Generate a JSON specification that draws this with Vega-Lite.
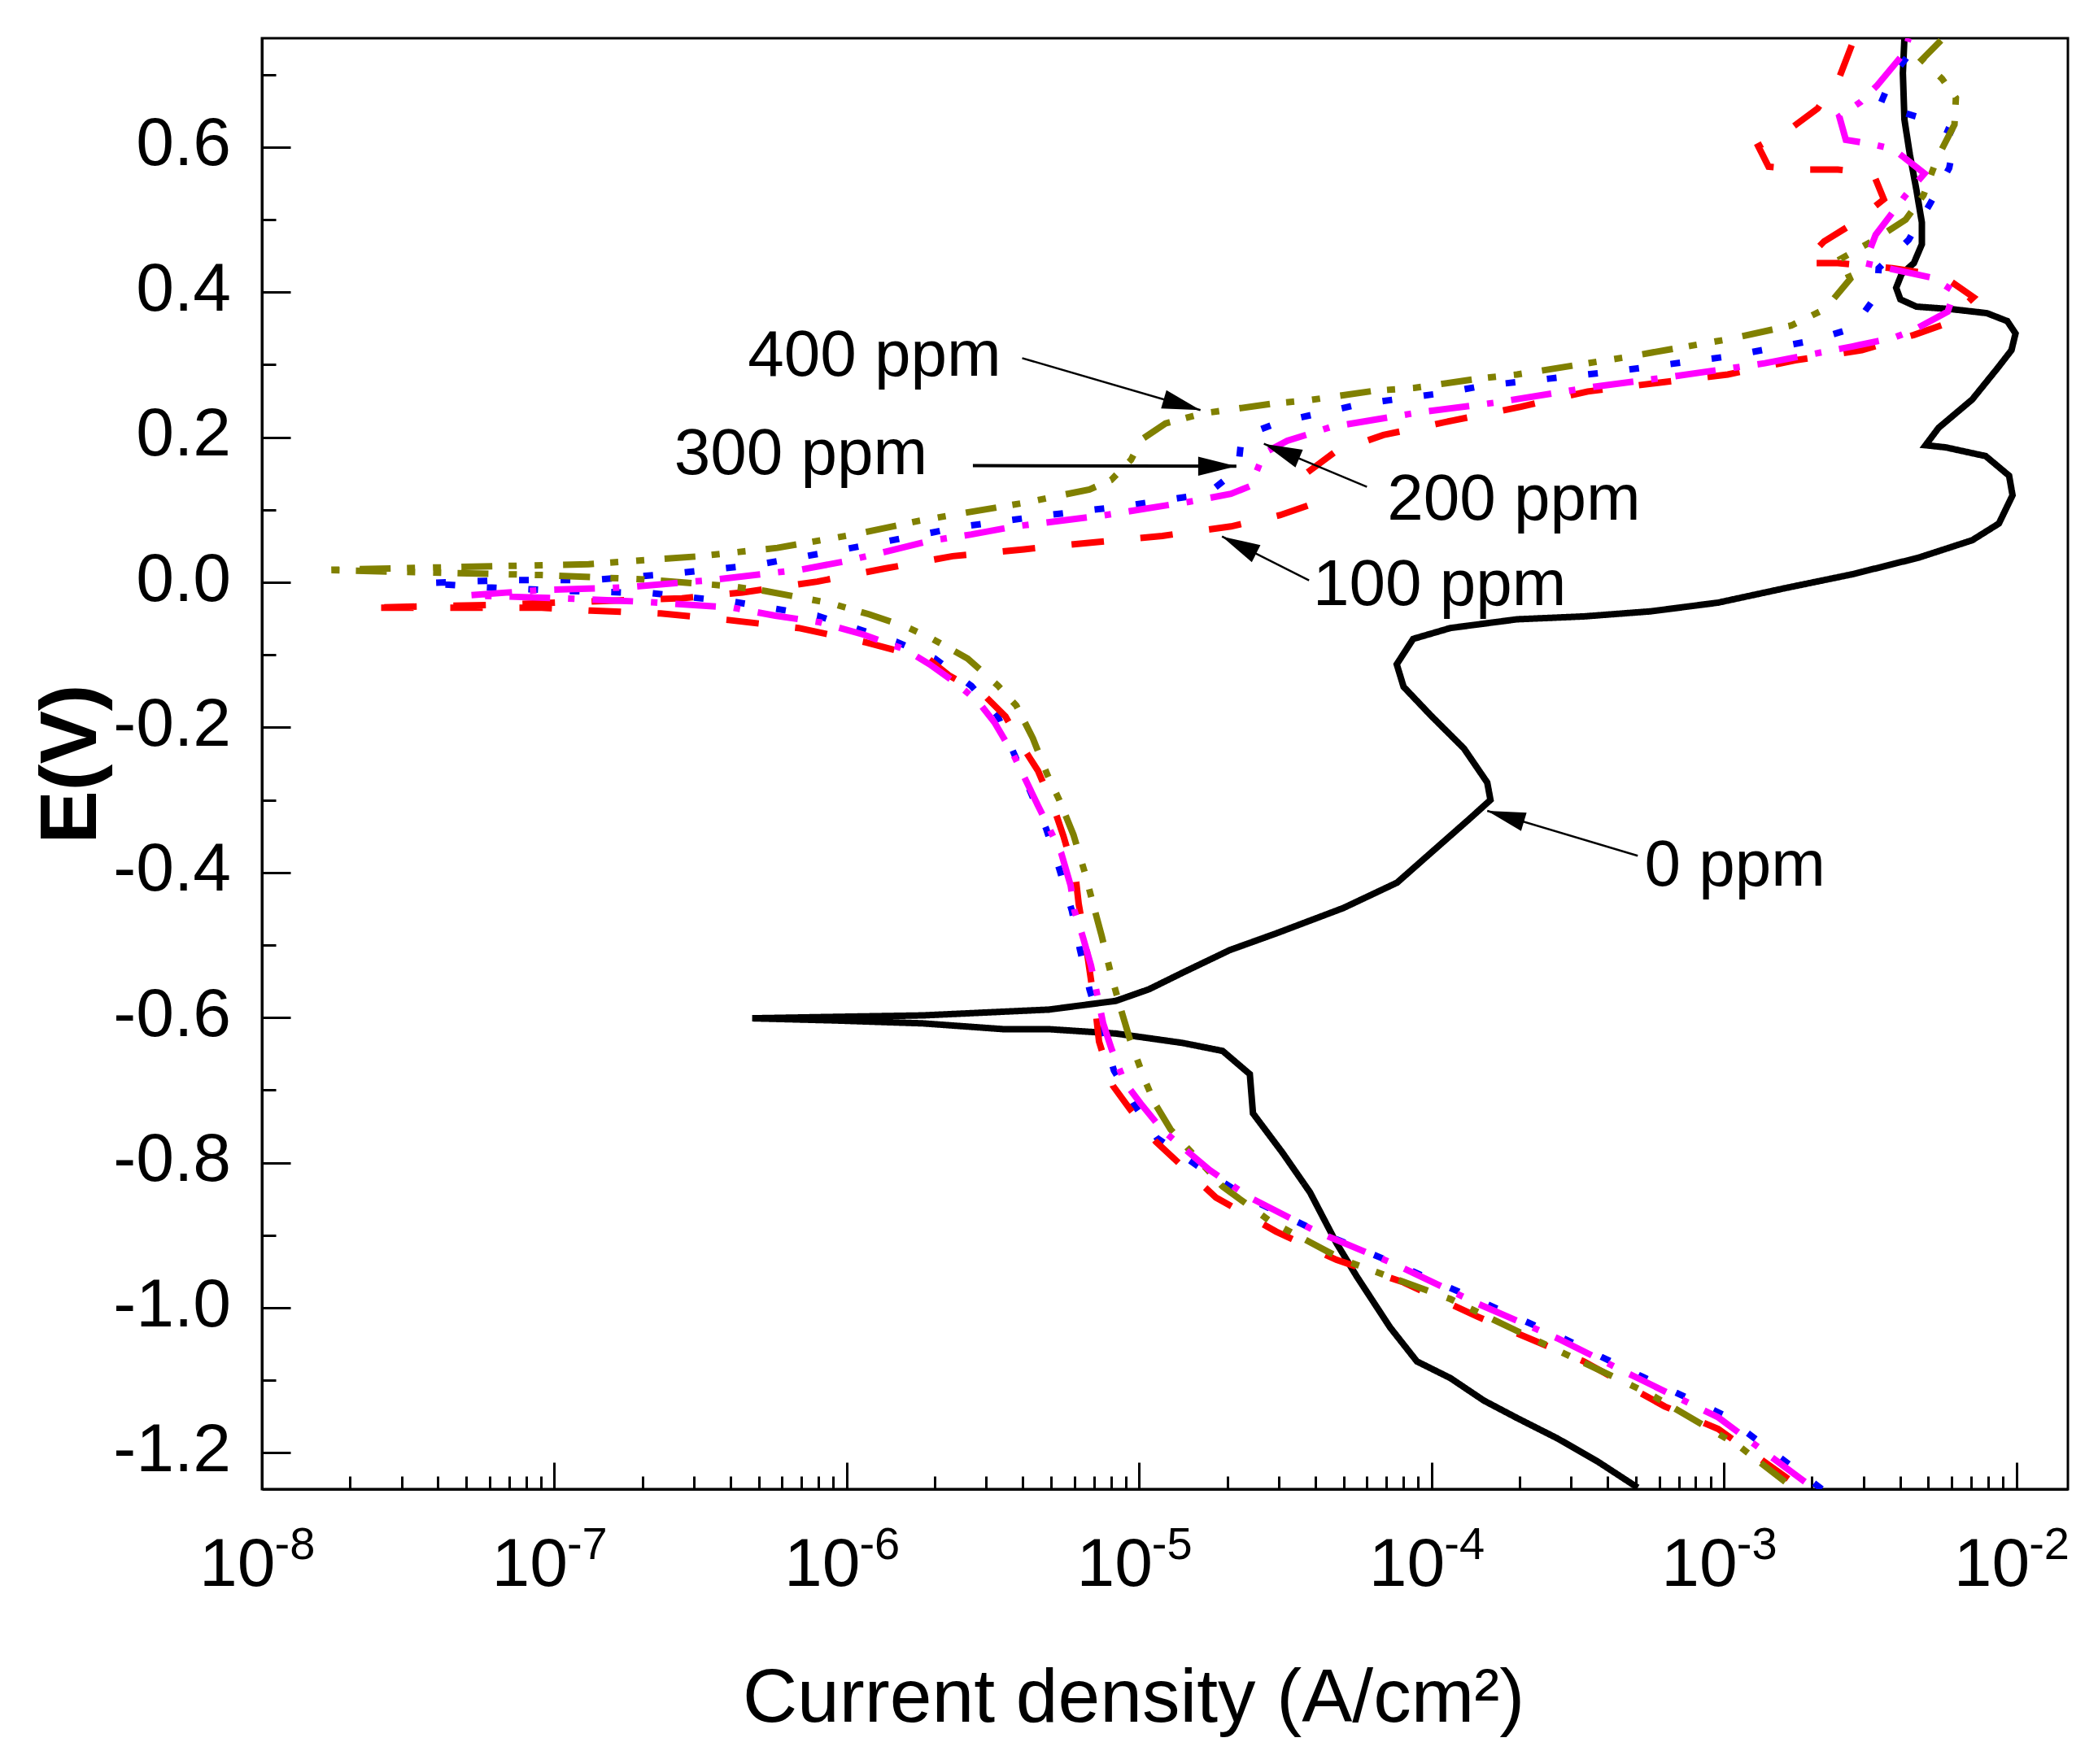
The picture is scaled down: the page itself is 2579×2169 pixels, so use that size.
{
  "$schema": "https://vega.github.io/schema/vega-lite/v6.json",
  "width": 2220,
  "height": 1784,
  "autosize": {"type": "none"},
  "padding": {"left": 322, "top": 47, "right": 37, "bottom": 338},
  "background": "white",
  "config": {
    "font": "Liberation Sans",
    "view": {"stroke": "#000000", "strokeWidth": 3},
    "axis": {
      "grid": false,
      "domainColor": "#000000",
      "domainWidth": 3,
      "tickColor": "#000000",
      "tickWidth": 3,
      "labelColor": "#000000",
      "titleColor": "#000000",
      "labelFont": "Liberation Sans",
      "titleFont": "Liberation Sans",
      "labelFlush": false,
      "labelOverlap": false,
      "labelBound": false
    }
  },
  "datasets": {
    "curves": [
      {"s":"0 ppm","k":1,"i":5.07e-4,"E":-1.248},{"s":"0 ppm","k":2,"i":3.70e-4,"E":-1.212},{"s":"0 ppm","k":3,"i":2.69e-4,"E":-1.18},{"s":"0 ppm","k":4,"i":1.96e-4,"E":-1.152},{"s":"0 ppm","k":5,"i":1.51e-4,"E":-1.128},{"s":"0 ppm","k":6,"i":1.16e-4,"E":-1.097},{"s":"0 ppm","k":7,"i":8.91e-5,"E":-1.074},{"s":"0 ppm","k":8,"i":7.21e-5,"E":-1.027},{"s":"0 ppm","k":9,"i":5.55e-5,"E":-0.957},{"s":"0 ppm","k":10,"i":4.73e-5,"E":-0.911},
      {"s":"0 ppm","k":11,"i":3.84e-5,"E":-0.841},{"s":"0 ppm","k":12,"i":3.10e-5,"E":-0.787},{"s":"0 ppm","k":13,"i":2.45e-5,"E":-0.732},{"s":"0 ppm","k":14,"i":2.39e-5,"E":-0.678},{"s":"0 ppm","k":15,"i":1.93e-5,"E":-0.646},{"s":"0 ppm","k":16,"i":1.41e-5,"E":-0.635},{"s":"0 ppm","k":17,"i":8.32e-6,"E":-0.622},{"s":"0 ppm","k":18,"i":4.91e-6,"E":-0.616},{"s":"0 ppm","k":19,"i":3.44e-6,"E":-0.616},{"s":"0 ppm","k":20,"i":1.82e-6,"E":-0.608},
      {"s":"0 ppm","k":21,"i":9.18e-7,"E":-0.604},{"s":"0 ppm","k":22,"i":4.75e-7,"E":-0.601},{"s":"0 ppm","k":23,"i":9.18e-7,"E":-0.599},{"s":"0 ppm","k":24,"i":1.82e-6,"E":-0.597},{"s":"0 ppm","k":25,"i":4.91e-6,"E":-0.589},{"s":"0 ppm","k":26,"i":8.32e-6,"E":-0.577},{"s":"0 ppm","k":27,"i":1.08e-5,"E":-0.561},{"s":"0 ppm","k":28,"i":1.41e-5,"E":-0.538},{"s":"0 ppm","k":29,"i":2.04e-5,"E":-0.507},{"s":"0 ppm","k":30,"i":2.94e-5,"E":-0.484},
      {"s":"0 ppm","k":31,"i":4.99e-5,"E":-0.449},{"s":"0 ppm","k":32,"i":7.62e-5,"E":-0.414},{"s":"0 ppm","k":33,"i":1.02e-4,"E":-0.369},{"s":"0 ppm","k":34,"i":1.34e-4,"E":-0.327},{"s":"0 ppm","k":35,"i":1.59e-4,"E":-0.300},{"s":"0 ppm","k":36,"i":1.55e-4,"E":-0.276},{"s":"0 ppm","k":37,"i":1.29e-4,"E":-0.229},{"s":"0 ppm","k":38,"i":9.91e-5,"E":-0.183},{"s":"0 ppm","k":39,"i":8.02e-5,"E":-0.144},{"s":"0 ppm","k":40,"i":7.60e-5,"E":-0.113},
      {"s":"0 ppm","k":41,"i":8.65e-5,"E":-0.078},{"s":"0 ppm","k":42,"i":1.16e-4,"E":-0.063},{"s":"0 ppm","k":43,"i":1.96e-4,"E":-0.051},{"s":"0 ppm","k":44,"i":3.32e-4,"E":-0.047},{"s":"0 ppm","k":45,"i":5.62e-4,"E":-0.040},{"s":"0 ppm","k":46,"i":9.55e-4,"E":-0.028},{"s":"0 ppm","k":47,"i":1.62e-3,"E":-0.008},{"s":"0 ppm","k":48,"i":2.74e-3,"E":0.011},{"s":"0 ppm","k":49,"i":4.63e-3,"E":0.034},{"s":"0 ppm","k":50,"i":7.06e-3,"E":0.058},
      {"s":"0 ppm","k":51,"i":8.71e-3,"E":0.081},{"s":"0 ppm","k":52,"i":9.70e-3,"E":0.120},{"s":"0 ppm","k":53,"i":9.44e-3,"E":0.147},{"s":"0 ppm","k":54,"i":7.85e-3,"E":0.174},{"s":"0 ppm","k":55,"i":5.73e-3,"E":0.186},{"s":"0 ppm","k":56,"i":4.89e-3,"E":0.189},{"s":"0 ppm","k":57,"i":5.42e-3,"E":0.213},{"s":"0 ppm","k":58,"i":7.06e-3,"E":0.252},{"s":"0 ppm","k":59,"i":8.65e-3,"E":0.296},{"s":"0 ppm","k":60,"i":9.62e-3,"E":0.320},
      {"s":"0 ppm","k":61,"i":9.93e-3,"E":0.343},{"s":"0 ppm","k":62,"i":9.31e-3,"E":0.360},{"s":"0 ppm","k":63,"i":7.93e-3,"E":0.371},{"s":"0 ppm","k":64,"i":6.01e-3,"E":0.3765},{"s":"0 ppm","k":65,"i":4.55e-3,"E":0.380},{"s":"0 ppm","k":66,"i":4.01e-3,"E":0.390},{"s":"0 ppm","k":67,"i":3.88e-3,"E":0.406},{"s":"0 ppm","k":68,"i":4.05e-3,"E":0.425},{"s":"0 ppm","k":69,"i":4.46e-3,"E":0.440},{"s":"0 ppm","k":70,"i":4.75e-3,"E":0.466},
      {"s":"0 ppm","k":71,"i":4.75e-3,"E":0.496},{"s":"0 ppm","k":72,"i":4.55e-3,"E":0.541},{"s":"0 ppm","k":73,"i":4.32e-3,"E":0.590},{"s":"0 ppm","k":74,"i":4.14e-3,"E":0.638},{"s":"0 ppm","k":75,"i":4.09e-3,"E":0.702},{"s":"0 ppm","k":76,"i":4.14e-3,"E":0.75},

      {"s":"300 ppm","k":1,"i":2.16e-3,"E":-1.25},{"s":"300 ppm","k":2,"i":1.00e-3,"E":-1.148},{"s":"300 ppm","k":3,"i":5.25e-4,"E":-1.095},{"s":"300 ppm","k":4,"i":2.75e-4,"E":-1.04},{"s":"300 ppm","k":5,"i":1.45e-4,"E":-0.99},{"s":"300 ppm","k":6,"i":7.59e-5,"E":-0.94},{"s":"300 ppm","k":7,"i":3.98e-5,"E":-0.893},{"s":"300 ppm","k":8,"i":2.34e-5,"E":-0.848},{"s":"300 ppm","k":9,"i":1.66e-5,"E":-0.81},{"s":"300 ppm","k":10,"i":1.15e-5,"E":-0.766},
      {"s":"300 ppm","k":11,"i":9.64e-6,"E":-0.721},{"s":"300 ppm","k":12,"i":8.20e-6,"E":-0.673},{"s":"300 ppm","k":13,"i":7.45e-6,"E":-0.618},{"s":"300 ppm","k":14,"i":6.76e-6,"E":-0.561},{"s":"300 ppm","k":15,"i":6.27e-6,"E":-0.506},{"s":"300 ppm","k":16,"i":5.89e-6,"E":-0.453},{"s":"300 ppm","k":17,"i":5.33e-6,"E":-0.395},{"s":"300 ppm","k":18,"i":4.81e-6,"E":-0.340},{"s":"300 ppm","k":19,"i":4.24e-6,"E":-0.288},{"s":"300 ppm","k":20,"i":3.75e-6,"E":-0.238},
      {"s":"300 ppm","k":21,"i":3.27e-6,"E":-0.183},{"s":"300 ppm","k":22,"i":2.67e-6,"E":-0.143},{"s":"300 ppm","k":23,"i":2.00e-6,"E":-0.105},{"s":"300 ppm","k":24,"i":1.48e-6,"E":-0.082},{"s":"300 ppm","k":25,"i":7.93e-7,"E":-0.046},{"s":"300 ppm","k":26,"i":4.12e-7,"E":-0.027},{"s":"300 ppm","k":27,"i":2.15e-7,"E":-0.015},{"s":"300 ppm","k":28,"i":1.11e-7,"E":-0.012},{"s":"300 ppm","k":29,"i":5.82e-8,"E":-0.007},{"s":"300 ppm","k":30,"i":3.61e-8,"E":-0.001},
      {"s":"300 ppm","k":31,"i":6.87e-8,"E":0.003},{"s":"300 ppm","k":32,"i":1.33e-7,"E":0.003},{"s":"300 ppm","k":33,"i":2.54e-7,"E":0.012},{"s":"300 ppm","k":34,"i":4.91e-7,"E":0.024},{"s":"300 ppm","k":35,"i":9.35e-7,"E":0.044},{"s":"300 ppm","k":36,"i":1.77e-6,"E":0.065},{"s":"300 ppm","k":37,"i":2.46e-6,"E":0.0766},{"s":"300 ppm","k":38,"i":4.73e-6,"E":0.092},{"s":"300 ppm","k":39,"i":8.85e-6,"E":0.105},{"s":"300 ppm","k":40,"i":1.71e-5,"E":0.122},
      {"s":"300 ppm","k":41,"i":2.18e-5,"E":0.156},{"s":"300 ppm","k":42,"i":2.24e-5,"E":0.201},{"s":"300 ppm","k":43,"i":3.03e-5,"E":0.221},{"s":"300 ppm","k":44,"i":5.77e-5,"E":0.246},{"s":"300 ppm","k":45,"i":1.10e-4,"E":0.261},{"s":"300 ppm","k":46,"i":1.51e-4,"E":0.271},{"s":"300 ppm","k":47,"i":4.10e-4,"E":0.290},{"s":"300 ppm","k":48,"i":1.06e-3,"E":0.312},{"s":"300 ppm","k":49,"i":2.02e-3,"E":0.3335},{"s":"300 ppm","k":50,"i":2.75e-3,"E":0.350},
      {"s":"300 ppm","k":51,"i":3.34e-3,"E":0.397},{"s":"300 ppm","k":52,"i":3.38e-3,"E":0.433},{"s":"300 ppm","k":53,"i":4.28e-3,"E":0.472},{"s":"300 ppm","k":54,"i":5.07e-3,"E":0.522},{"s":"300 ppm","k":55,"i":5.89e-3,"E":0.571},{"s":"300 ppm","k":56,"i":6.21e-3,"E":0.618},{"s":"300 ppm","k":57,"i":4.55e-3,"E":0.642},{"s":"300 ppm","k":58,"i":3.41e-3,"E":0.657},{"s":"300 ppm","k":59,"i":3.76e-3,"E":0.698},{"s":"300 ppm","k":60,"i":4.65e-3,"E":0.745},

      {"s":"100 ppm","k":1,"i":1.66e-3,"E":-1.236},{"s":"100 ppm","k":2,"i":9.55e-4,"E":-1.167},{"s":"100 ppm","k":3,"i":6.27e-4,"E":-1.136},{"s":"100 ppm","k":4,"i":3.32e-4,"E":-1.074},{"s":"100 ppm","k":5,"i":1.43e-4,"E":-1.012},{"s":"100 ppm","k":6,"i":8.02e-5,"E":-0.965},{"s":"100 ppm","k":7,"i":4.73e-5,"E":-0.934},{"s":"100 ppm","k":8,"i":2.94e-5,"E":-0.895},{"s":"100 ppm","k":9,"i":1.83e-5,"E":-0.848},{"s":"100 ppm","k":10,"i":1.14e-5,"E":-0.771},
      {"s":"100 ppm","k":11,"i":9.25e-6,"E":-0.725},{"s":"100 ppm","k":12,"i":8.13e-6,"E":-0.694},{"s":"100 ppm","k":13,"i":7.29e-6,"E":-0.633},{"s":"100 ppm","k":14,"i":7.13e-6,"E":-0.598},{"s":"100 ppm","k":15,"i":6.62e-6,"E":-0.508},{"s":"100 ppm","k":16,"i":6.21e-6,"E":-0.443},{"s":"100 ppm","k":17,"i":6.07e-6,"E":-0.408},{"s":"100 ppm","k":18,"i":5.51e-6,"E":-0.350},{"s":"100 ppm","k":19,"i":5.13e-6,"E":-0.313},{"s":"100 ppm","k":20,"i":4.51e-6,"E":-0.260},
      {"s":"100 ppm","k":21,"i":3.97e-6,"E":-0.225},{"s":"100 ppm","k":22,"i":3.49e-6,"E":-0.185},{"s":"100 ppm","k":23,"i":2.94e-6,"E":-0.155},{"s":"100 ppm","k":24,"i":2.23e-6,"E":-0.128},{"s":"100 ppm","k":25,"i":1.91e-6,"E":-0.106},{"s":"100 ppm","k":26,"i":1.17e-6,"E":-0.083},{"s":"100 ppm","k":27,"i":6.84e-7,"E":-0.063},{"s":"100 ppm","k":28,"i":3.94e-7,"E":-0.052},{"s":"100 ppm","k":29,"i":2.31e-7,"E":-0.043},{"s":"100 ppm","k":30,"i":1.33e-7,"E":-0.039},
      {"s":"100 ppm","k":31,"i":9.06e-8,"E":-0.035},{"s":"100 ppm","k":32,"i":2.24e-8,"E":-0.035},{"s":"100 ppm","k":33,"i":6.27e-8,"E":-0.031},{"s":"100 ppm","k":34,"i":1.54e-7,"E":-0.0255},{"s":"100 ppm","k":35,"i":2.73e-7,"E":-0.022},{"s":"100 ppm","k":36,"i":4.40e-7,"E":-0.014},{"s":"100 ppm","k":37,"i":7.93e-7,"E":0.001},{"s":"100 ppm","k":38,"i":1.35e-6,"E":0.019},{"s":"100 ppm","k":39,"i":2.30e-6,"E":0.036},{"s":"100 ppm","k":40,"i":4.04e-6,"E":0.0455},
      {"s":"100 ppm","k":41,"i":6.95e-6,"E":0.055},{"s":"100 ppm","k":42,"i":1.20e-5,"E":0.064},{"s":"100 ppm","k":43,"i":2.06e-5,"E":0.077},{"s":"100 ppm","k":44,"i":3.03e-5,"E":0.0925},{"s":"100 ppm","k":45,"i":3.85e-5,"E":0.107},{"s":"100 ppm","k":46,"i":3.72e-5,"E":0.150},{"s":"100 ppm","k":47,"i":4.68e-5,"E":0.18},{"s":"100 ppm","k":48,"i":6.84e-5,"E":0.203},{"s":"100 ppm","k":49,"i":1.18e-4,"E":0.223},{"s":"100 ppm","k":50,"i":2.02e-4,"E":0.242},
      {"s":"100 ppm","k":51,"i":3.42e-4,"E":0.263},{"s":"100 ppm","k":52,"i":5.94e-4,"E":0.275},{"s":"100 ppm","k":53,"i":1.03e-3,"E":0.2865},{"s":"100 ppm","k":54,"i":1.75e-3,"E":0.306},{"s":"100 ppm","k":55,"i":2.96e-3,"E":0.320},{"s":"100 ppm","k":56,"i":4.46e-3,"E":0.341},{"s":"100 ppm","k":57,"i":5.70e-3,"E":0.356},{"s":"100 ppm","k":58,"i":7.13e-3,"E":0.393},{"s":"100 ppm","k":59,"i":5.57e-3,"E":0.423},{"s":"100 ppm","k":60,"i":3.76e-3,"E":0.433},
      {"s":"100 ppm","k":61,"i":2.45e-3,"E":0.440},{"s":"100 ppm","k":62,"i":1.87e-3,"E":0.440},{"s":"100 ppm","k":63,"i":2.20e-3,"E":0.470},{"s":"100 ppm","k":64,"i":2.75e-3,"E":0.494},{"s":"100 ppm","k":65,"i":3.52e-3,"E":0.528},{"s":"100 ppm","k":66,"i":3.24e-3,"E":0.5635},{"s":"100 ppm","k":67,"i":2.45e-3,"E":0.569},{"s":"100 ppm","k":68,"i":1.87e-3,"E":0.569},{"s":"100 ppm","k":69,"i":1.42e-3,"E":0.573},{"s":"100 ppm","k":70,"i":1.31e-3,"E":0.601},
      {"s":"100 ppm","k":71,"i":1.71e-3,"E":0.627},{"s":"100 ppm","k":72,"i":2.09e-3,"E":0.653},{"s":"100 ppm","k":73,"i":2.48e-3,"E":0.696},{"s":"100 ppm","k":74,"i":2.75e-3,"E":0.743},

      {"s":"400 ppm","k":1,"i":1.62e-3,"E":-1.24},{"s":"400 ppm","k":2,"i":1.12e-3,"E":-1.19},{"s":"400 ppm","k":3,"i":5.64e-4,"E":-1.12},{"s":"400 ppm","k":4,"i":2.43e-4,"E":-1.05},{"s":"400 ppm","k":5,"i":1.16e-4,"E":-0.988},{"s":"400 ppm","k":6,"i":4.99e-5,"E":-0.934},{"s":"400 ppm","k":7,"i":2.79e-5,"E":-0.880},{"s":"400 ppm","k":8,"i":1.93e-5,"E":-0.833},{"s":"400 ppm","k":9,"i":1.28e-5,"E":-0.754},{"s":"400 ppm","k":10,"i":1.13e-5,"E":-0.718},
      {"s":"400 ppm","k":11,"i":1.04e-5,"E":-0.684},{"s":"400 ppm","k":12,"i":9.31e-6,"E":-0.631},{"s":"400 ppm","k":13,"i":8.55e-6,"E":-0.581},{"s":"400 ppm","k":14,"i":8.04e-6,"E":-0.543},{"s":"400 ppm","k":15,"i":7.45e-6,"E":-0.488},{"s":"400 ppm","k":16,"i":6.90e-6,"E":-0.438},{"s":"400 ppm","k":17,"i":6.55e-6,"E":-0.403},{"s":"400 ppm","k":18,"i":5.96e-6,"E":-0.348},{"s":"400 ppm","k":19,"i":5.33e-6,"E":-0.300},{"s":"400 ppm","k":20,"i":4.85e-6,"E":-0.265},
      {"s":"400 ppm","k":21,"i":4.33e-6,"E":-0.215},{"s":"400 ppm","k":22,"i":3.80e-6,"E":-0.170},{"s":"400 ppm","k":23,"i":3.30e-6,"E":-0.143},{"s":"400 ppm","k":24,"i":2.59e-6,"E":-0.105},{"s":"400 ppm","k":25,"i":1.96e-6,"E":-0.078},{"s":"400 ppm","k":26,"i":1.59e-6,"E":-0.061},{"s":"400 ppm","k":27,"i":1.19e-6,"E":-0.044},{"s":"400 ppm","k":28,"i":8.83e-7,"E":-0.029},{"s":"400 ppm","k":29,"i":5.28e-7,"E":-0.012},{"s":"400 ppm","k":30,"i":3.94e-7,"E":-0.005},
      {"s":"400 ppm","k":31,"i":2.03e-7,"E":0.004},{"s":"400 ppm","k":32,"i":9.06e-8,"E":0.010},{"s":"400 ppm","k":33,"i":1.61e-8,"E":0.017},{"s":"400 ppm","k":34,"i":1.31e-7,"E":0.025},{"s":"400 ppm","k":35,"i":3.05e-7,"E":0.0355},{"s":"400 ppm","k":36,"i":5.79e-7,"E":0.0475},{"s":"400 ppm","k":37,"i":1.06e-6,"E":0.066},{"s":"400 ppm","k":38,"i":1.78e-6,"E":0.085},{"s":"400 ppm","k":39,"i":2.38e-6,"E":0.094},{"s":"400 ppm","k":40,"i":3.98e-6,"E":0.109},
      {"s":"400 ppm","k":41,"i":6.76e-6,"E":0.128},{"s":"400 ppm","k":42,"i":8.02e-6,"E":0.141},{"s":"400 ppm","k":43,"i":9.38e-6,"E":0.169},{"s":"400 ppm","k":44,"i":1.02e-5,"E":0.197},{"s":"400 ppm","k":45,"i":1.23e-5,"E":0.219},{"s":"400 ppm","k":46,"i":1.66e-5,"E":0.233},{"s":"400 ppm","k":47,"i":2.82e-5,"E":0.246},{"s":"400 ppm","k":48,"i":3.81e-5,"E":0.251},{"s":"400 ppm","k":49,"i":6.37e-5,"E":0.264},{"s":"400 ppm","k":50,"i":8.71e-5,"E":0.268},
      {"s":"400 ppm","k":51,"i":1.46e-4,"E":0.281},{"s":"400 ppm","k":52,"i":1.96e-4,"E":0.2865},{"s":"400 ppm","k":53,"i":4.56e-4,"E":0.310},{"s":"400 ppm","k":54,"i":1.03e-3,"E":0.335},{"s":"400 ppm","k":55,"i":1.70e-3,"E":0.354},{"s":"400 ppm","k":56,"i":2.22e-3,"E":0.377},{"s":"400 ppm","k":57,"i":2.70e-3,"E":0.418},{"s":"400 ppm","k":58,"i":2.51e-3,"E":0.446},{"s":"400 ppm","k":59,"i":3.27e-3,"E":0.472},{"s":"400 ppm","k":60,"i":4.18e-3,"E":0.500},
      {"s":"400 ppm","k":61,"i":4.81e-3,"E":0.5335},{"s":"400 ppm","k":62,"i":5.35e-3,"E":0.584},{"s":"400 ppm","k":63,"i":6.14e-3,"E":0.631},{"s":"400 ppm","k":64,"i":6.21e-3,"E":0.668},{"s":"400 ppm","k":65,"i":5.57e-3,"E":0.694},{"s":"400 ppm","k":66,"i":4.75e-3,"E":0.7205},{"s":"400 ppm","k":67,"i":5.52e-3,"E":0.747},

      {"s":"200 ppm","k":1,"i":1.89e-3,"E":-1.24},{"s":"200 ppm","k":2,"i":9.55e-4,"E":-1.151},{"s":"200 ppm","k":3,"i":5.07e-4,"E":-1.097},{"s":"200 ppm","k":4,"i":2.69e-4,"E":-1.042},{"s":"200 ppm","k":5,"i":1.43e-4,"E":-0.994},{"s":"200 ppm","k":6,"i":7.60e-5,"E":-0.941},{"s":"200 ppm","k":7,"i":4.04e-5,"E":-0.895},{"s":"200 ppm","k":8,"i":2.39e-5,"E":-0.848},{"s":"200 ppm","k":9,"i":1.74e-5,"E":-0.810},{"s":"200 ppm","k":10,"i":1.20e-5,"E":-0.755},
      {"s":"200 ppm","k":11,"i":1.01e-5,"E":-0.718},{"s":"200 ppm","k":12,"i":8.91e-6,"E":-0.689},{"s":"200 ppm","k":13,"i":8.04e-6,"E":-0.643},{"s":"200 ppm","k":14,"i":7.53e-6,"E":-0.608},{"s":"200 ppm","k":15,"i":7.21e-6,"E":-0.571},{"s":"200 ppm","k":16,"i":6.84e-6,"E":-0.528},{"s":"200 ppm","k":17,"i":6.41e-6,"E":-0.488},{"s":"200 ppm","k":18,"i":6.01e-6,"E":-0.453},{"s":"200 ppm","k":19,"i":5.83e-6,"E":-0.418},{"s":"200 ppm","k":20,"i":5.41e-6,"E":-0.373},
      {"s":"200 ppm","k":21,"i":4.91e-6,"E":-0.338},{"s":"200 ppm","k":22,"i":4.51e-6,"E":-0.308},{"s":"200 ppm","k":23,"i":3.72e-6,"E":-0.238},{"s":"200 ppm","k":24,"i":3.20e-6,"E":-0.193},{"s":"200 ppm","k":25,"i":2.82e-6,"E":-0.165},{"s":"200 ppm","k":26,"i":2.38e-6,"E":-0.140},{"s":"200 ppm","k":27,"i":1.92e-6,"E":-0.113},{"s":"200 ppm","k":28,"i":1.59e-6,"E":-0.093},{"s":"200 ppm","k":29,"i":1.14e-6,"E":-0.072},{"s":"200 ppm","k":30,"i":8.07e-7,"E":-0.055},
      {"s":"200 ppm","k":31,"i":5.69e-7,"E":-0.046},{"s":"200 ppm","k":32,"i":4.08e-7,"E":-0.035},{"s":"200 ppm","k":33,"i":2.07e-7,"E":-0.027},{"s":"200 ppm","k":34,"i":1.05e-7,"E":-0.022},{"s":"200 ppm","k":35,"i":5.12e-8,"E":-0.018},{"s":"200 ppm","k":36,"i":9.06e-8,"E":-0.0105},{"s":"200 ppm","k":37,"i":1.75e-7,"E":-0.007},{"s":"200 ppm","k":38,"i":3.40e-7,"E":0.003},{"s":"200 ppm","k":39,"i":6.97e-7,"E":0.0175},{"s":"200 ppm","k":40,"i":9.89e-7,"E":0.029},
      {"s":"200 ppm","k":41,"i":1.35e-6,"E":0.042},{"s":"200 ppm","k":42,"i":1.91e-6,"E":0.057},{"s":"200 ppm","k":43,"i":2.67e-6,"E":0.066},{"s":"200 ppm","k":44,"i":3.75e-6,"E":0.077},{"s":"200 ppm","k":45,"i":7.46e-6,"E":0.092},{"s":"200 ppm","k":46,"i":1.48e-5,"E":0.111},{"s":"200 ppm","k":47,"i":2.06e-5,"E":0.122},{"s":"200 ppm","k":48,"i":2.41e-5,"E":0.133},{"s":"200 ppm","k":49,"i":2.67e-5,"E":0.178},{"s":"200 ppm","k":50,"i":3.21e-5,"E":0.195},
      {"s":"200 ppm","k":51,"i":4.52e-5,"E":0.214},{"s":"200 ppm","k":52,"i":8.97e-5,"E":0.234},{"s":"200 ppm","k":53,"i":1.64e-4,"E":0.2475},{"s":"200 ppm","k":54,"i":3.51e-4,"E":0.269},{"s":"200 ppm","k":55,"i":6.78e-4,"E":0.284},{"s":"200 ppm","k":56,"i":1.38e-3,"E":0.302},{"s":"200 ppm","k":57,"i":2.74e-3,"E":0.325},{"s":"200 ppm","k":58,"i":3.80e-3,"E":0.337},{"s":"200 ppm","k":59,"i":4.46e-3,"E":0.348},{"s":"200 ppm","k":60,"i":5.82e-3,"E":0.373},
      {"s":"200 ppm","k":61,"i":6.14e-3,"E":0.401},{"s":"200 ppm","k":62,"i":5.18e-3,"E":0.4195},{"s":"200 ppm","k":63,"i":3.03e-3,"E":0.440},{"s":"200 ppm","k":64,"i":3.30e-3,"E":0.479},{"s":"200 ppm","k":65,"i":3.76e-3,"E":0.509},{"s":"200 ppm","k":66,"i":4.18e-3,"E":0.5335},{"s":"200 ppm","k":67,"i":4.85e-3,"E":0.5635},{"s":"200 ppm","k":68,"i":3.80e-3,"E":0.597},{"s":"200 ppm","k":69,"i":3.17e-3,"E":0.6045},{"s":"200 ppm","k":70,"i":2.61e-3,"E":0.610},
      {"s":"200 ppm","k":71,"i":2.48e-3,"E":0.642},{"s":"200 ppm","k":72,"i":2.94e-3,"E":0.6625},{"s":"200 ppm","k":73,"i":3.34e-3,"E":0.685},{"s":"200 ppm","k":74,"i":4.14e-3,"E":0.730},{"s":"200 ppm","k":75,"i":4.28e-3,"E":0.75}
    ],
    "notes": [
      {"label": "400 ppm", "tx": 4.59e-7, "tE": 0.2845, "x0": 3.98e-6, "E0": 0.309, "x1": 1.62e-5, "E1": 0.2374},
      {"label": "300 ppm", "tx": 2.57e-7, "tE": 0.149, "x0": 2.70e-6, "E0": 0.1608, "x1": 2.15e-5, "E1": 0.160},
      {"label": "200 ppm", "tx": 7.05e-5, "tE": 0.0867, "x0": 6.01e-5, "E0": 0.1316, "x1": 2.67e-5, "E1": 0.191},
      {"label": "100 ppm", "tx": 3.93e-5, "tE": -0.0318, "x0": 3.81e-5, "E0": 0.0026, "x1": 1.92e-5, "E1": 0.0632},
      {"label": "0 ppm", "tx": 5.35e-4, "tE": -0.418, "x0": 5.07e-4, "E0": -0.377, "x1": 1.55e-4, "E1": -0.315}
    ]
  },
  "layer": [
    {
      "data": {"name": "curves"},
      "mark": {"type": "line", "strokeWidth": 8, "strokeCap": "butt", "clip": true},
      "encoding": {
        "x": {
          "field": "i",
          "type": "quantitative",
          "scale": {"type": "log", "domain": [1e-8, 0.015], "nice": false},
          "axis": {
            "orient": "bottom",
            "values": [1e-8, 1e-7, 1e-6, 1e-5, 1e-4, 1e-3, 1e-2],
            "labelExpr": "'10'",
            "tickSize": -33,
            "labelPadding": 151,
            "labelFontSize": 84,
            "labelAlign": "right",
            "labelOffset": 16,
            "labelBaseline": "alphabetic",
            "title": "Current density (A/cm²)",
            "titleFontSize": 93,
            "titleFontWeight": "normal",
            "titleX": 1071,
            "titleY": 285,
            "titleAlign": "center",
            "titleBaseline": "alphabetic"
          }
        },
        "y": {
          "field": "E",
          "type": "quantitative",
          "scale": {"domain": [-1.25, 0.75], "nice": false, "zero": false},
          "axis": {
            "orient": "left",
            "values": [-1.2, -1.0, -0.8, -0.6, -0.4, -0.2, 0, 0.2, 0.4, 0.6],
            "labelExpr": "replace(format(datum.value, '.1f'), '−', '-')",
            "tickSize": -35,
            "labelPadding": 73.5,
            "labelFontSize": 84,
            "labelBaseline": "middle",
            "labelOffset": -3,
            "title": "E(V)",
            "titleFontSize": 98,
            "titleFontWeight": "bold",
            "titleX": -234,
            "titleY": 892,
            "titleAngle": -90,
            "titleAlign": "center",
            "titleBaseline": "middle"
          }
        },
        "color": {
          "field": "s",
          "type": "nominal",
          "scale": {
            "domain": ["0 ppm", "100 ppm", "200 ppm", "300 ppm", "400 ppm"],
            "range": ["#000000", "#ff0000", "#ff00ff", "#0000ff", "#808000"]
          },
          "legend": null
        },
        "strokeDash": {
          "field": "s",
          "type": "nominal",
          "scale": {
            "domain": ["0 ppm", "100 ppm", "200 ppm", "300 ppm", "400 ppm"],
            "range": [[1, 0], [40, 45], [50, 22, 8, 22], [12, 39], [38, 20, 10, 22, 10, 25]]
          },
          "legend": null
        },
        "order": {"field": "k", "type": "quantitative"}
      }
    },
    {
      "data": {"name": "notes"},
      "mark": {"type": "text", "align": "left", "baseline": "alphabetic", "fontSize": 80, "font": "Liberation Sans", "color": "#000000"},
      "encoding": {
        "x": {
          "field": "tx",
          "type": "quantitative",
          "axis": {
            "orient": "bottom",
            "values": [2e-8,3e-8,4e-8,5e-8,6e-8,7e-8,8e-8,9e-8,2e-7,3e-7,4e-7,5e-7,6e-7,7e-7,8e-7,9e-7,2e-6,3e-6,4e-6,5e-6,6e-6,7e-6,8e-6,9e-6,2e-5,3e-5,4e-5,5e-5,6e-5,7e-5,8e-5,9e-5,2e-4,3e-4,4e-4,5e-4,6e-4,7e-4,8e-4,9e-4,2e-3,3e-3,4e-3,5e-3,6e-3,7e-3,8e-3,9e-3],
            "tickSize": -16,
            "labels": false,
            "domain": false,
            "title": null
          }
        },
        "y": {
          "field": "tE",
          "type": "quantitative",
          "axis": {
            "orient": "left",
            "values": [0.7, 0.5, 0.3, 0.1, -0.1, -0.3, -0.5, -0.7, -0.9, -1.1],
            "tickSize": -17,
            "labels": false,
            "domain": false,
            "title": null
          }
        },
        "text": {"field": "label"}
      }
    },
    {
      "data": {"name": "notes"},
      "mark": {"type": "rule", "color": "#000000"},
      "encoding": {
        "x": {
          "field": "x0",
          "type": "quantitative",
          "axis": {
            "orient": "bottom",
            "values": [1e-8, 1e-7, 1e-6, 1e-5, 1e-4, 1e-3, 1e-2],
            "labelExpr": "'' + round(log(datum.value) / LN10)",
            "ticks": false,
            "domain": false,
            "labelFontSize": 56,
            "labelAlign": "left",
            "labelOffset": 15,
            "labelPadding": 85,
            "labelBaseline": "alphabetic",
            "title": null
          }
        },
        "y": {"field": "E0", "type": "quantitative", "axis": null},
        "x2": {"field": "x1"},
        "y2": {"field": "E1"},
        "strokeWidth": {"condition": {"test": "datum.label == '300 ppm'", "value": 4}, "value": 2.5}
      }
    },
    {
      "data": {"name": "notes"},
      "transform": [{"filter": "datum.label == '400 ppm'"}],
      "mark": {"type": "point", "shape": "M0,0L-0.25,1L0.25,1Z", "filled": true, "color": "#000000", "opacity": 1, "size": 8836, "angle": 106.3},
      "encoding": {
        "x": {"field": "x1", "type": "quantitative", "axis": null},
        "y": {"field": "E1", "type": "quantitative", "axis": null}
      }
    },
    {
      "data": {"name": "notes"},
      "transform": [{"filter": "datum.label == '300 ppm'"}],
      "mark": {"type": "point", "shape": "M0,0L-0.25,1L0.25,1Z", "filled": true, "color": "#000000", "opacity": 1, "size": 8836, "angle": 90},
      "encoding": {
        "x": {"field": "x1", "type": "quantitative", "axis": null},
        "y": {"field": "E1", "type": "quantitative", "axis": null}
      }
    },
    {
      "data": {"name": "notes"},
      "transform": [{"filter": "datum.label == '200 ppm'"}],
      "mark": {"type": "point", "shape": "M0,0L-0.25,1L0.25,1Z", "filled": true, "color": "#000000", "opacity": 1, "size": 8836, "angle": 292.8},
      "encoding": {
        "x": {"field": "x1", "type": "quantitative", "axis": null},
        "y": {"field": "E1", "type": "quantitative", "axis": null}
      }
    },
    {
      "data": {"name": "notes"},
      "transform": [{"filter": "datum.label == '100 ppm'"}],
      "mark": {"type": "point", "shape": "M0,0L-0.25,1L0.25,1Z", "filled": true, "color": "#000000", "opacity": 1, "size": 8836, "angle": 296.8},
      "encoding": {
        "x": {"field": "x1", "type": "quantitative", "axis": null},
        "y": {"field": "E1", "type": "quantitative", "axis": null}
      }
    },
    {
      "data": {"name": "notes"},
      "transform": [{"filter": "datum.label == '0 ppm'"}],
      "mark": {"type": "point", "shape": "M0,0L-0.25,1L0.25,1Z", "filled": true, "color": "#000000", "opacity": 1, "size": 8836, "angle": 286.7},
      "encoding": {
        "x": {"field": "x1", "type": "quantitative", "axis": null},
        "y": {"field": "E1", "type": "quantitative", "axis": null}
      }
    }
  ],
  "resolve": {"axis": {"x": "independent", "y": "independent"}}
}
